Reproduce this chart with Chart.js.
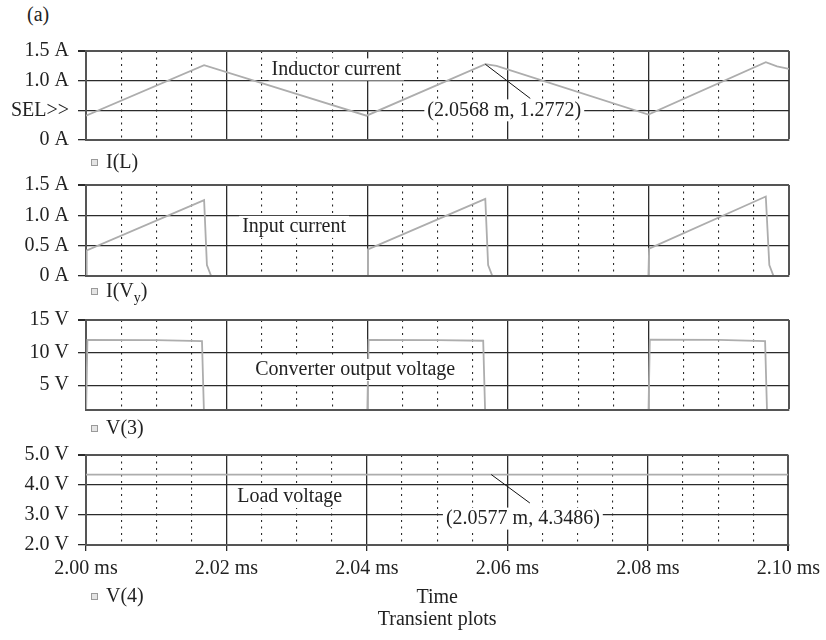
<!DOCTYPE html>
<html>
<head>
<meta charset="utf-8">
<script src="https://cdn.jsdelivr.net/npm/chart.js@4.4.1/dist/chart.umd.min.js"></script>
<style>
	body { margin: 0; background: #fff; }
	#quadro { position: relative; width: 826px; height: 640px; }
	#quadro canvas { position: absolute; left: 0; top: 0; }
	#letra { position: absolute; left: 27px; top: 3px; font: 20px "Liberation Serif", serif; color: #222; }
</style>
</head>
<body>
<div id="quadro">
	<div id="letra">(a)</div>
	<canvas id="painelIndutor" width="826" height="640"></canvas>
	<canvas id="painelEntrada" width="826" height="640"></canvas>
	<canvas id="painelConversor" width="826" height="640"></canvas>
	<canvas id="painelCarga" width="826" height="640"></canvas>
</div>
<script>
// tempo em ms
var marcasTempo = [2.00, 2.02, 2.04, 2.06, 2.08, 2.10];
var rotulosTempo = ['2.00 ms', '2.02 ms', '2.04 ms', '2.06 ms', '2.08 ms', '2.10 ms'];
var marcasPontilhadas = [2.005, 2.010, 2.015, 2.025, 2.030, 2.035, 2.045, 2.050, 2.055, 2.065, 2.070, 2.075, 2.085, 2.090, 2.095];

var tempoCorrenteIndutor = [2.000, 2.0168, 2.0399, 2.0568, 2.0584, 2.0800, 2.0967, 2.0983, 2.1000];
var correnteIndutor      = [0.41,  1.26,   0.41,   1.2772, 1.25,   0.43,   1.31,   1.24,   1.20];

var tempoCorrenteEntrada = [2.000, 2.0001, 2.0168, 2.0172, 2.0178, 2.0399, 2.0400, 2.0401, 2.0568, 2.0572, 2.0578, 2.0799, 2.0800, 2.0801, 2.0967, 2.0972, 2.0978, 2.1000];
var correnteEntrada      = [0,     0.42,   1.25,   0.18,   0,      0,      0,      0.44,   1.27,   0.18,   0,      0,      0,      0.45,   1.31,   0.18,   0,      0];

var tempoTensaoConversor = [2.000, 2.0002, 2.010, 2.0165, 2.0168, 2.0400, 2.0402, 2.050, 2.0565, 2.0568, 2.0800, 2.0802, 2.090, 2.0966, 2.0969, 2.1000];
var tensaoConversor      = [0,     11.95,  11.9,  11.75,  0,      0,      11.95,  11.9,  11.82,  0,      0,      12.0,   11.95, 11.75,  0,      0];

var tempoTensaoCarga = [2.000, 2.100];
var tensaoCarga      = [4.3486, 4.3486];

var marcasIndutor = [0, 0.5, 1.0, 1.5];
var rotulosIndutor = ['0 A', 'SEL>>', '1.0 A', '1.5 A'];
var marcasEntrada = [0, 0.5, 1.0, 1.5];
var rotulosEntrada = ['0 A', '0.5 A', '1.0 A', '1.5 A'];
var marcasConversor = [5, 10, 15];
var rotulosConversor = ['5 V', '10 V', '15 V'];
var marcasCarga = [2, 3, 4, 5];
var rotulosCarga = ['2.0 V', '3.0 V', '4.0 V', '5.0 V'];

var fonte = '"Liberation Serif", "DejaVu Serif", serif';
var corTexto = '#222';
var corCurva = '#adadad';
var corGrade = '#2b2b2b';
var corMoldura = '#555';

function ehMarca(v) {
	return marcasTempo.some(function(m) { return Math.abs(m - v) < 1e-6; });
}

function rotuloTempo(v) {
	for (var i = 0; i < marcasTempo.length; i++) {
		if (Math.abs(marcasTempo[i] - v) < 1e-6) return rotulosTempo[i];
	}
	return '';
}

function pontos(tempos, valores) {
	return tempos.map(function(t, i) { return { x: t, y: valores[i] }; });
}

// textos com fundo branco, setas dos marcadores e legenda da curva
var pluginAnotacoes = {
	id: 'anotacoes',
	afterDatasetsDraw: function(chart, args, opts) {
		var ctx = chart.ctx;
		var sx = chart.scales.x, sy = chart.scales.y;
		ctx.save();
		ctx.font = '20px ' + fonte;
		ctx.textBaseline = 'middle';
		(opts.setas || []).forEach(function(s) {
			ctx.strokeStyle = '#111';
			ctx.lineWidth = 1;
			ctx.beginPath();
			ctx.moveTo(sx.getPixelForValue(s.de[0]), sy.getPixelForValue(s.de[1]));
			ctx.lineTo(sx.getPixelForValue(s.ate[0]), sy.getPixelForValue(s.ate[1]));
			ctx.stroke();
		});
		(opts.textos || []).forEach(function(t) {
			var px = sx.getPixelForValue(t.x), py = sy.getPixelForValue(t.y);
			var w = ctx.measureText(t.texto).width;
			ctx.fillStyle = '#fff';
			ctx.fillRect(px - w / 2 - 3, py - 11, w + 6, 22);
			ctx.fillStyle = corTexto;
			ctx.textAlign = 'center';
			ctx.fillText(t.texto, px, py);
		});
		var ds = chart.data.datasets[0];
		var area = chart.chartArea;
		var ly = area.bottom + opts.legendaY;
		ctx.fillStyle = '#e4e4e4';
		ctx.fillRect(area.left + 5, ly - 4, 7, 7);
		ctx.strokeStyle = '#9a9a9a';
		ctx.lineWidth = 1;
		ctx.strokeRect(area.left + 5.5, ly - 3.5, 6, 6);
		ctx.fillStyle = corTexto;
		ctx.textAlign = 'left';
		var partes = ds.label.split('_');
		var lx = area.left + 20;
		ctx.fillText(partes[0], lx, ly);
		if (partes.length > 1) {
			lx += ctx.measureText(partes[0]).width;
			ctx.font = '14px ' + fonte;
			ctx.fillText(partes[1].charAt(0), lx, ly + 6);
			lx += ctx.measureText(partes[1].charAt(0)).width;
			ctx.font = '20px ' + fonte;
			ctx.fillText(partes[1].substring(1), lx, ly);
		}
		ctx.restore();
	}
};

function criarPainel(id, cfg) {
	var comEixo = !!cfg.eixoTempo;
	var escalaX = {
		type: 'linear',
		min: 2.00,
		max: 2.10,
		afterBuildTicks: function(s) {
			s.ticks = marcasTempo.concat(marcasPontilhadas).sort(function(a, b) { return a - b; })
				.map(function(v) { return { value: v }; });
		},
		afterFit: function(s) { s.height = comEixo ? 65 : 0; },
		ticks: {
			display: comEixo,
			autoSkip: false,
			maxRotation: 0,
			padding: 6,
			color: corTexto,
			font: { family: fonte, size: 20 },
			callback: function(v) { return rotuloTempo(v); }
		},
		grid: {
			drawTicks: comEixo,
			tickLength: 6,
			tickColor: function(c) { return c.tick && ehMarca(c.tick.value) ? corGrade : 'rgba(0,0,0,0)'; },
			color: function(c) { return c.tick && c.tick.value > 2.0999 ? corMoldura : corGrade; },
			lineWidth: function(c) { return c.tick && c.tick.value > 2.0999 ? 2 : (c.tick && ehMarca(c.tick.value) ? 1.3 : 1.1); }
		},
		border: {
			color: corMoldura,
			width: 2,
			z: 1,
			dash: function(c) { return c.tick && !ehMarca(c.tick.value) ? [2, 4.5] : []; }
		},
		title: {
			display: comEixo,
			text: 'Time',
			color: corTexto,
			font: { family: fonte, size: 20 },
			padding: { top: 0, bottom: 0 }
		}
	};
	var escalaY = {
		min: cfg.yMin,
		max: cfg.yMax,
		afterBuildTicks: function(s) {
			s.ticks = cfg.marcas.map(function(v) { return { value: v }; });
		},
		afterFit: function(s) { s.width = 86; },
		ticks: {
			padding: 9,
			color: corTexto,
			font: { family: fonte, size: 20 },
			callback: function(v, i) { return cfg.rotulos[i]; }
		},
		grid: {
			tickLength: 8,
			color: function(c) { return c.tick && c.tick.value === cfg.yMax ? corMoldura : corGrade; },
			lineWidth: function(c) { return c.tick && c.tick.value === cfg.yMax ? 2 : 1.3; },
			tickColor: corGrade
		},
		border: { color: corMoldura, width: 2 }
	};
	return new Chart(document.getElementById(id).getContext('2d'), {
		type: 'line',
		data: {
			datasets: [{
				label: cfg.legenda,
				data: cfg.dados,
				borderColor: corCurva,
				borderWidth: 1.8,
				pointRadius: 0,
				tension: 0,
				fill: false
			}]
		},
		options: {
			responsive: false,
			animation: false,
			events: [],
			layout: { padding: { top: cfg.topo, bottom: cfg.baixo, left: 0, right: 37 } },
			scales: { x: escalaX, y: escalaY },
			plugins: {
				legend: { display: false },
				tooltip: { enabled: false },
				title: {
					display: comEixo,
					text: 'Transient plots',
					position: 'bottom',
					fullSize: false,
					color: corTexto,
					font: { family: fonte, size: 20, weight: 'normal' },
					padding: { top: -2, bottom: 8 }
				},
				anotacoes: {
					textos: cfg.textos,
					setas: cfg.setas,
					legendaY: cfg.legendaY
				}
			}
		},
		plugins: [pluginAnotacoes]
	});
}

criarPainel('painelIndutor', {
	legenda: 'I(L)',
	dados: pontos(tempoCorrenteIndutor, correnteIndutor),
	yMin: 0, yMax: 1.5,
	marcas: marcasIndutor, rotulos: rotulosIndutor,
	topo: 51, baixo: 500, legendaY: 23,
	textos: [
		{ texto: 'Inductor current', x: 2.0356, y: 1.19 },
		{ texto: '(2.0568 m, 1.2772)', x: 2.0595, y: 0.5 }
	],
	setas: [{ de: [2.0568, 1.2772], ate: [2.0632, 0.70] }]
});

criarPainel('painelEntrada', {
	legenda: 'I(V_y)',
	dados: pontos(tempoCorrenteEntrada, correnteEntrada),
	yMin: 0, yMax: 1.5,
	marcas: marcasEntrada, rotulos: rotulosEntrada,
	topo: 185, baixo: 364, legendaY: 16,
	textos: [{ texto: 'Input current', x: 2.0296, y: 0.81 }],
	setas: []
});

criarPainel('painelConversor', {
	legenda: 'V(3)',
	dados: pontos(tempoTensaoConversor, tensaoConversor),
	yMin: 1.2, yMax: 15,
	marcas: marcasConversor, rotulos: rotulosConversor,
	topo: 320, baixo: 230, legendaY: 19,
	textos: [{ texto: 'Converter output voltage', x: 2.0383, y: 7.34 }],
	setas: []
});

criarPainel('painelCarga', {
	legenda: 'V(4)',
	eixoTempo: true,
	dados: pontos(tempoTensaoCarga, tensaoCarga),
	yMin: 2, yMax: 5,
	marcas: marcasCarga, rotulos: rotulosCarga,
	topo: 455, baixo: 0, legendaY: 52,
	textos: [
		{ texto: 'Load voltage', x: 2.029, y: 3.6 },
		{ texto: '(2.0577 m, 4.3486)', x: 2.0622, y: 2.88 }
	],
	setas: [{ de: [2.0577, 4.3486], ate: [2.0632, 3.4] }]
});
</script>
</body>
</html>
